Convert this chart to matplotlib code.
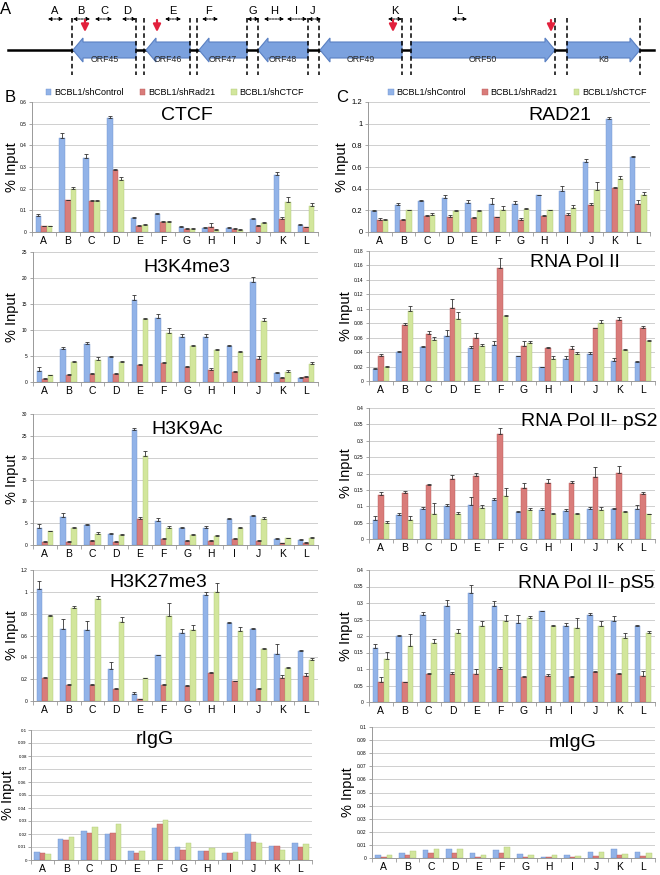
import matplotlib
matplotlib.use('Agg')
import matplotlib.pyplot as plt
import numpy as np
from matplotlib.patches import Polygon

plt.rcParams['font.family'] = ['Liberation Sans', 'DejaVu Sans']

W, H = 660, 875

# ---------------- data ----------------
regions = list('ABCDEFGHIJKL')
series_names = ['BCBL1/shControl', 'BCBL1/shRad21', 'BCBL1/shCTCF']
colors = ['#92B3E8', '#D97C7A', '#D2E69C']
edges = ['#6F93CF', '#B85A58', '#AFC877']

# CTCF
ctcf_ctrl = [0.075, 0.435, 0.34, 0.527, 0.063, 0.082, 0.024, 0.02, 0.02, 0.06, 0.265, 0.032]
ctcf_rad = [0.027, 0.148, 0.145, 0.285, 0.028, 0.045, 0.014, 0.025, 0.015, 0.03, 0.06, 0.022]
ctcf_ctcf = [0.027, 0.197, 0.145, 0.24, 0.033, 0.048, 0.015, 0.011, 0.01, 0.04, 0.14, 0.122]
ctcf_err = [[0.01, 0.022, 0.022, 0.008, 0.005, 0.008, 0.005, 0.003, 0.003, 0.003, 0.012, 0.003],
            [0.003, 0.002, 0.002, 0.005, 0.004, 0.005, 0.004, 0.015, 0.003, 0.003, 0.008, 0.003],
            [0.003, 0.013, 0.005, 0.015, 0.003, 0.005, 0.003, 0.003, 0.003, 0.004, 0.022, 0.012]]

# H3K4me3
k4_ctrl = [2.1, 6.3, 7.3, 4.8, 15.7, 12.4, 8.6, 8.7, 6.9, 19.3, 1.7, 0.8]
k4_rad = [0.6, 1.4, 1.5, 1.6, 3.3, 3.7, 2.8, 2.4, 2.0, 4.5, 0.8, 1.0]
k4_ctcf = [1.3, 3.9, 4.3, 3.9, 12.1, 9.5, 6.9, 6.1, 5.7, 11.7, 2.0, 3.5]
k4_err = [[0.7, 0.5, 0.4, 0.2, 1.0, 0.6, 0.6, 0.6, 0.2, 0.9, 0.3, 0.1],
          [0.2, 0.2, 0.2, 0.2, 0.2, 0.2, 0.2, 0.2, 0.2, 0.5, 0.2, 0.2],
          [0.1, 0.2, 0.5, 0.2, 0.3, 0.8, 0.3, 0.3, 0.3, 0.6, 0.3, 0.4]]

# H3K9Ac
k9_ctrl = [4.0, 6.5, 4.5, 2.6, 26.3, 5.5, 4.0, 3.9, 6.0, 6.7, 1.4, 1.2]
k9_rad = [0.8, 0.8, 0.9, 0.7, 6.0, 1.3, 1.0, 0.9, 1.3, 0.9, 0.4, 0.5]
k9_ctcf = [3.1, 3.8, 2.6, 2.3, 20.3, 3.9, 2.4, 2.0, 3.9, 6.0, 1.5, 1.6]
k9_err = [[0.7, 0.8, 0.3, 0.2, 0.4, 0.7, 0.2, 0.4, 0.2, 0.2, 0.2, 0.2],
          [0.2, 0.2, 0.2, 0.2, 0.4, 0.3, 0.2, 0.2, 0.3, 0.2, 0.1, 0.1],
          [0.2, 0.3, 0.3, 0.2, 1.3, 0.4, 0.2, 0.3, 0.2, 0.3, 0.2, 0.2]]

# H3K27me3
k27_ctrl = [1.03, 0.66, 0.65, 0.29, 0.06, 0.42, 0.62, 0.97, 0.71, 0.66, 0.43, 0.46]
k27_rad = [0.21, 0.15, 0.15, 0.11, 0.015, 0.15, 0.14, 0.26, 0.18, 0.11, 0.21, 0.23]
k27_ctcf = [0.78, 0.85, 0.93, 0.72, 0.21, 0.78, 0.65, 1.0, 0.64, 0.48, 0.3, 0.38]
k27_err = [[0.07, 0.09, 0.08, 0.07, 0.02, 0.005, 0.04, 0.03, 0.015, 0.005, 0.09, 0.01],
           [0.01, 0.005, 0.005, 0.005, 0.005, 0.005, 0.005, 0.01, 0.005, 0.005, 0.03, 0.03],
           [0.01, 0.02, 0.03, 0.05, 0.005, 0.12, 0.05, 0.08, 0.04, 0.005, 0.01, 0.015]]

# rIgG
rigg_ctrl = [0.0063, 0.016, 0.022, 0.02, 0.0073, 0.0245, 0.0098, 0.0073, 0.0053, 0.02, 0.011, 0.013]
rigg_rad = [0.0055, 0.0153, 0.0205, 0.021, 0.0055, 0.028, 0.008, 0.007, 0.0053, 0.0135, 0.011, 0.010]
rigg_ctcf = [0.005, 0.0175, 0.0255, 0.0275, 0.0073, 0.0305, 0.013, 0.0095, 0.0065, 0.013, 0.0075, 0.012]

# RAD21
rad21_ctrl = [0.19, 0.25, 0.29, 0.31, 0.265, 0.26, 0.26, 0.34, 0.38, 0.645, 1.04, 0.695]
rad21_rad = [0.11, 0.11, 0.15, 0.14, 0.125, 0.135, 0.115, 0.15, 0.16, 0.25, 0.405, 0.26]
rad21_ctcf = [0.11, 0.2, 0.16, 0.19, 0.19, 0.2, 0.215, 0.2, 0.225, 0.39, 0.485, 0.34]
rad21_err = [[0.01, 0.02, 0.01, 0.03, 0.03, 0.05, 0.03, 0.005, 0.045, 0.025, 0.02, 0.005],
             [0.02, 0.01, 0.01, 0.015, 0.01, 0.005, 0.015, 0.005, 0.015, 0.02, 0.01, 0.04],
             [0.01, 0.005, 0.02, 0.01, 0.015, 0.04, 0.01, 0.005, 0.02, 0.07, 0.03, 0.025]]

# RNA Pol II
pol_ctrl = [0.016, 0.04, 0.047, 0.062, 0.046, 0.05, 0.034, 0.019, 0.031, 0.037, 0.028, 0.027]
pol_rad = [0.035, 0.077, 0.065, 0.101, 0.06, 0.157, 0.048, 0.046, 0.044, 0.073, 0.084, 0.073]
pol_ctcf = [0.02, 0.097, 0.057, 0.086, 0.049, 0.09, 0.052, 0.031, 0.037, 0.081, 0.043, 0.056]
pol_err = [[0.002, 0.001, 0.002, 0.008, 0.003, 0.005, 0.001, 0.001, 0.004, 0.003, 0.004, 0.001],
           [0.003, 0.003, 0.004, 0.012, 0.006, 0.013, 0.008, 0.001, 0.005, 0.001, 0.005, 0.003],
           [0.001, 0.007, 0.004, 0.009, 0.002, 0.002, 0.004, 0.003, 0.003, 0.004, 0.002, 0.001]]

# RNA Pol II pS2
ps2_ctrl = [0.058, 0.072, 0.093, 0.1, 0.105, 0.12, 0.082, 0.088, 0.087, 0.092, 0.092, 0.093]
ps2_rad = [0.133, 0.14, 0.165, 0.182, 0.193, 0.32, 0.155, 0.17, 0.17, 0.19, 0.202, 0.138]
ps2_ctcf = [0.05, 0.058, 0.075, 0.077, 0.095, 0.13, 0.09, 0.077, 0.075, 0.09, 0.083, 0.075]
ps2_err = [[0.012, 0.008, 0.004, 0.006, 0.022, 0.006, 0.005, 0.008, 0.005, 0.005, 0.004, 0.012],
           [0.01, 0.008, 0.004, 0.012, 0.01, 0.018, 0.015, 0.013, 0.008, 0.03, 0.022, 0.005],
           [0.005, 0.012, 0.035, 0.005, 0.01, 0.025, 0.005, 0.003, 0.005, 0.008, 0.003, 0.002]]

# RNA Pol II pS5
ps5_ctrl = [0.163, 0.2, 0.265, 0.29, 0.33, 0.29, 0.24, 0.275, 0.23, 0.265, 0.245, 0.23]
ps5_rad = [0.06, 0.06, 0.085, 0.085, 0.085, 0.1, 0.075, 0.08, 0.075, 0.09, 0.085, 0.08]
ps5_ctcf = [0.13, 0.17, 0.18, 0.21, 0.23, 0.245, 0.255, 0.23, 0.225, 0.23, 0.195, 0.21]
ps5_err = [[0.012, 0.002, 0.008, 0.018, 0.025, 0.015, 0.025, 0.002, 0.01, 0.005, 0.015, 0.002],
           [0.015, 0.002, 0.002, 0.005, 0.015, 0.005, 0.005, 0.005, 0.003, 0.005, 0.003, 0.015],
           [0.022, 0.035, 0.01, 0.01, 0.015, 0.02, 0.005, 0.003, 0.03, 0.015, 0.015, 0.005]]

# mIgG
migg_ctrl = [0.002, 0.0035, 0.006, 0.0065, 0.0035, 0.006, 0.003, 0.001, 0.0025, 0.0045, 0.0065, 0.0045]
migg_rad = [0.001, 0.002, 0.0035, 0.0035, 0.001, 0.004, 0.001, 0.0008, 0.0005, 0.0015, 0.002, 0.0015]
migg_ctcf = [0.0025, 0.005, 0.0065, 0.007, 0.002, 0.0085, 0.0025, 0.0025, 0.0015, 0.0045, 0.003, 0.0035]

# gene map (panel A), in pixel units of the strip
gene_names = ['ORF45', 'ORF46', 'ORF47', 'ORF48', 'ORF49', 'ORF50', 'K8']
gene_tail = [136, 190, 247, 308, 402, 411, 567]
gene_tip = [73, 146, 199, 258, 320, 555, 640]
region_x = [55, 81, 104, 127, 173, 209, 253, 274, 296, 313, 395, 459]
bracket_l = [48, 73, 95, 122, 165, 202, 247, 264, 287, 308, 388, 452]
bracket_r = [63, 90, 112, 136, 181, 218, 259, 284, 307, 321, 402, 467]
dash_x = [72, 136, 144, 190, 197, 247, 258, 308, 319, 402, 411, 555, 567, 640]
ctcf_sites = [85, 157, 393, 551]

# ---------------- figure ----------------
fig = plt.figure(figsize=(6.6, 8.75), dpi=100)


def px_axes(x0, y0, x1, y1):
    ax = fig.add_axes([x0 / W, 1 - y1 / H, (x1 - x0) / W, (y1 - y0) / H])
    ax._px = (x0, x1)
    return ax


def fmt(v):
    s = f'{v:.3f}'.rstrip('0').rstrip('.')
    return s if s else '0'


def bar_panel(ax, vals, errs, ymax, ystep, title, tx, ty, label_px, tick_fs=3.5, ypad=2):
    x = np.arange(len(regions))
    w = 0.235
    for i, v in enumerate(vals):
        kw = {}
        if errs is not None:
            kw = dict(yerr=[np.zeros(len(v)), errs[i]], capsize=1.3,
                      error_kw=dict(elinewidth=0.6, capthick=0.6, ecolor='#333333'))
        ax.bar(x + (i - 1) * w, v, w, color=colors[i], edgecolor=edges[i],
               linewidth=0.3, label=series_names[i], zorder=3, **kw)
    ax.set_xlim(-0.5, len(regions) - 0.5)
    ax.set_ylim(0, ymax)
    ticks = np.arange(0, ymax + ystep / 2, ystep)
    ax.set_yticks(ticks)
    ax.set_yticklabels([fmt(t) for t in ticks], fontsize=tick_fs)
    ax.yaxis.grid(True, color='#C8C8C8', lw=0.6, zorder=0)
    ax.set_axisbelow(True)
    ax.set_xticks(x)
    ax.set_xticklabels(regions, fontsize=7.5)
    ax.set_xticks(np.arange(-0.5, len(regions)), minor=True)
    ax.tick_params(axis='x', which='major', length=0, pad=3)
    ax.tick_params(axis='x', which='minor', length=3, color='#999999', width=0.6)
    ax.tick_params(axis='y', length=2, color='#999999', width=0.6, pad=ypad)
    for s in ['top', 'right']:
        ax.spines[s].set_visible(False)
    for s in ['left', 'bottom']:
        ax.spines[s].set_color('#999999')
        ax.spines[s].set_linewidth(0.7)
    ax.set_ylabel('% Input', fontsize=10.5)
    x0, x1 = ax._px
    ax.yaxis.set_label_coords((label_px - x0) / (x1 - x0), 0.5)
    ax.text(tx, ty, title, transform=ax.transAxes, ha='center', va='top', fontsize=14)


# panel A: gene map
axg = fig.add_axes([0, 1 - 75 / H, 1, 75 / H])
axg.set_xlim(0, W)
axg.set_ylim(75, 0)
axg.axis('off')
yc = 50
axg.plot([8, 654], [yc, yc], color='black', lw=1.8, zorder=1)
for name, tail, tip in zip(gene_names, gene_tail, gene_tip):
    d = 1 if tip > tail else -1
    hl = 10
    bh, hh = 8, 12
    pts = [(tail, yc - bh), (tip - d * hl, yc - bh), (tip - d * hl, yc - hh), (tip, yc),
           (tip - d * hl, yc + hh), (tip - d * hl, yc + bh), (tail, yc + bh)]
    axg.add_patch(Polygon(pts, closed=True, facecolor='#7BA1DE', edgecolor='#5A80C2', lw=0.8, zorder=2))
    axg.text((tail + tip) / 2, yc + 10, name, ha='center', va='center', fontsize=6.3,
             color='#2A2A2A', zorder=4)
axg.vlines(dash_x, 18, 75, colors='black', linestyles=(0, (3, 2)), lw=1.1, zorder=3)
for lab, xl, a, b in zip(regions, region_x, bracket_l, bracket_r):
    axg.text(xl, 11, lab, ha='center', va='center', fontsize=8)
    axg.annotate('', xy=(a, 19), xytext=(b, 19),
                 arrowprops=dict(arrowstyle='<|-|>', color='black', lw=0.7,
                                 linestyle=(0, (2, 1)), mutation_scale=5,
                                 shrinkA=0, shrinkB=0))
for xs in ctcf_sites:
    axg.annotate('', xy=(xs, 32), xytext=(xs, 20),
                 arrowprops=dict(arrowstyle='-|>', color='#E2203C', lw=1.6,
                                 mutation_scale=11, shrinkA=0, shrinkB=0))
axg.text(6, 10, 'A', ha='center', va='center', fontsize=12)

# column B
ax = px_axes(32, 102, 318, 232)
bar_panel(ax, [ctcf_ctrl, ctcf_rad, ctcf_ctcf], ctcf_err, 0.6, 0.1, 'CTCF', 0.54, 0.96, 19)
ax.legend(ncol=3, loc='lower center', bbox_to_anchor=(0.5, 1.0), frameon=False,
          fontsize=6.5, handlelength=0.6, handleheight=0.6, handletextpad=0.3,
          columnspacing=1.8, borderaxespad=0.1)
fig.text(5 / W, 1 - 97 / H, 'B', ha='left', va='center', fontsize=12)

ax = px_axes(33, 252, 318, 382)
bar_panel(ax, [k4_ctrl, k4_rad, k4_ctcf], k4_err, 25, 5, 'H3K4me3', 0.54, 0.95, 19)
ax = px_axes(33, 414, 318, 545)
bar_panel(ax, [k9_ctrl, k9_rad, k9_ctcf], k9_err, 30, 5, 'H3K9Ac', 0.54, 0.95, 19)
ax = px_axes(33, 570, 318, 701)
bar_panel(ax, [k27_ctrl, k27_rad, k27_ctcf], k27_err, 1.2, 0.2, 'H3K27me3', 0.44, 0.97, 19)
ax = px_axes(31, 730, 312, 860)
bar_panel(ax, [rigg_ctrl, rigg_rad, rigg_ctcf], None, 0.1, 0.01, 'rIgG', 0.44, 0.99, 15,
          tick_fs=3.2, ypad=1)

# column C
ax = px_axes(368, 102, 650, 232)
bar_panel(ax, [rad21_ctrl, rad21_rad, rad21_ctcf], rad21_err, 1.2, 0.2, 'RAD21', 0.68, 0.96, 349,
          tick_fs=5.5)
ax.legend(ncol=3, loc='lower center', bbox_to_anchor=(0.53, 1.0), frameon=False,
          fontsize=6.5, handlelength=0.6, handleheight=0.6, handletextpad=0.3,
          columnspacing=1.8, borderaxespad=0.1)
fig.text(336 / W, 1 - 97 / H, 'C', ha='left', va='center', fontsize=12)

ax = px_axes(369, 251, 655, 381)
bar_panel(ax, [pol_ctrl, pol_rad, pol_ctcf], pol_err, 0.18, 0.02, 'RNA Pol II', 0.72, 0.98, 353)
ax = px_axes(369, 408, 655, 539)
bar_panel(ax, [ps2_ctrl, ps2_rad, ps2_ctcf], ps2_err, 0.4, 0.05, 'RNA Pol II- pS2', 0.77, 0.96, 353)
ax = px_axes(369, 570, 655, 702)
bar_panel(ax, [ps5_ctrl, ps5_rad, ps5_ctcf], ps5_err, 0.4, 0.05, 'RNA Pol II- pS5', 0.76, 0.96, 353)
ax = px_axes(372, 727, 655, 858)
bar_panel(ax, [migg_ctrl, migg_rad, migg_ctcf], None, 0.1, 0.01, 'mIgG', 0.71, 0.95, 355)

fig.savefig('out.png', dpi=100)
